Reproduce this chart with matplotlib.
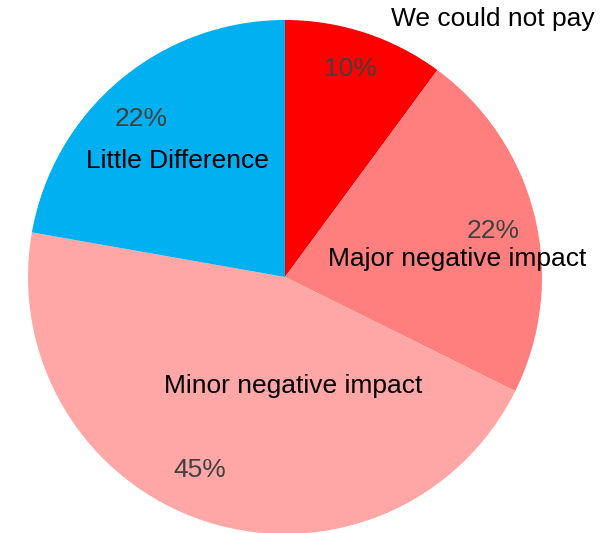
import matplotlib
matplotlib.use("Agg")
import matplotlib.pyplot as plt

categories = ["We could not pay", "Major negative impact", "Minor negative impact", "Little Difference"]
values = [10, 22, 45, 22]
pct_labels = ["10%", "22%", "45%", "22%"]
colors = ["#FF0000", "#FF7F7F", "#FFA6A6", "#00B0F0"]

plt.rcParams['font.family'] = ['Liberation Sans', 'DejaVu Sans']

W, H = 610, 533
fig = plt.figure(figsize=(W / 100, H / 100), dpi=100)
ax = fig.add_axes([0, 0, 1, 1])

cx, cy, R = 285, 277, 257
ax.pie(values, colors=colors, startangle=90, counterclock=False, radius=1,
       wedgeprops=dict(linewidth=0))
ax.set_aspect('auto')
ax.set_xlim(-cx / R, (W - cx) / R)
ax.set_ylim(-(H - cy) / R, cy / R)
ax.axis('off')

def px(x, y):
    return ((x - cx) / R, (cy - y) / R)

cat_pos = [(493, 19), (457, 259), (293, 386), (177, 161)]
pct_pos = [(350, 69), (493, 231), (200, 470), (141, 119)]
for name, (x, y) in zip(categories, cat_pos):
    ax.text(*px(x, y), name, ha='center', va='center', fontsize=19, color='black')
for p, (x, y) in zip(pct_labels, pct_pos):
    ax.text(*px(x, y), p, ha='center', va='center', fontsize=19, color='#404040')

fig.savefig("out.png", dpi=100)
